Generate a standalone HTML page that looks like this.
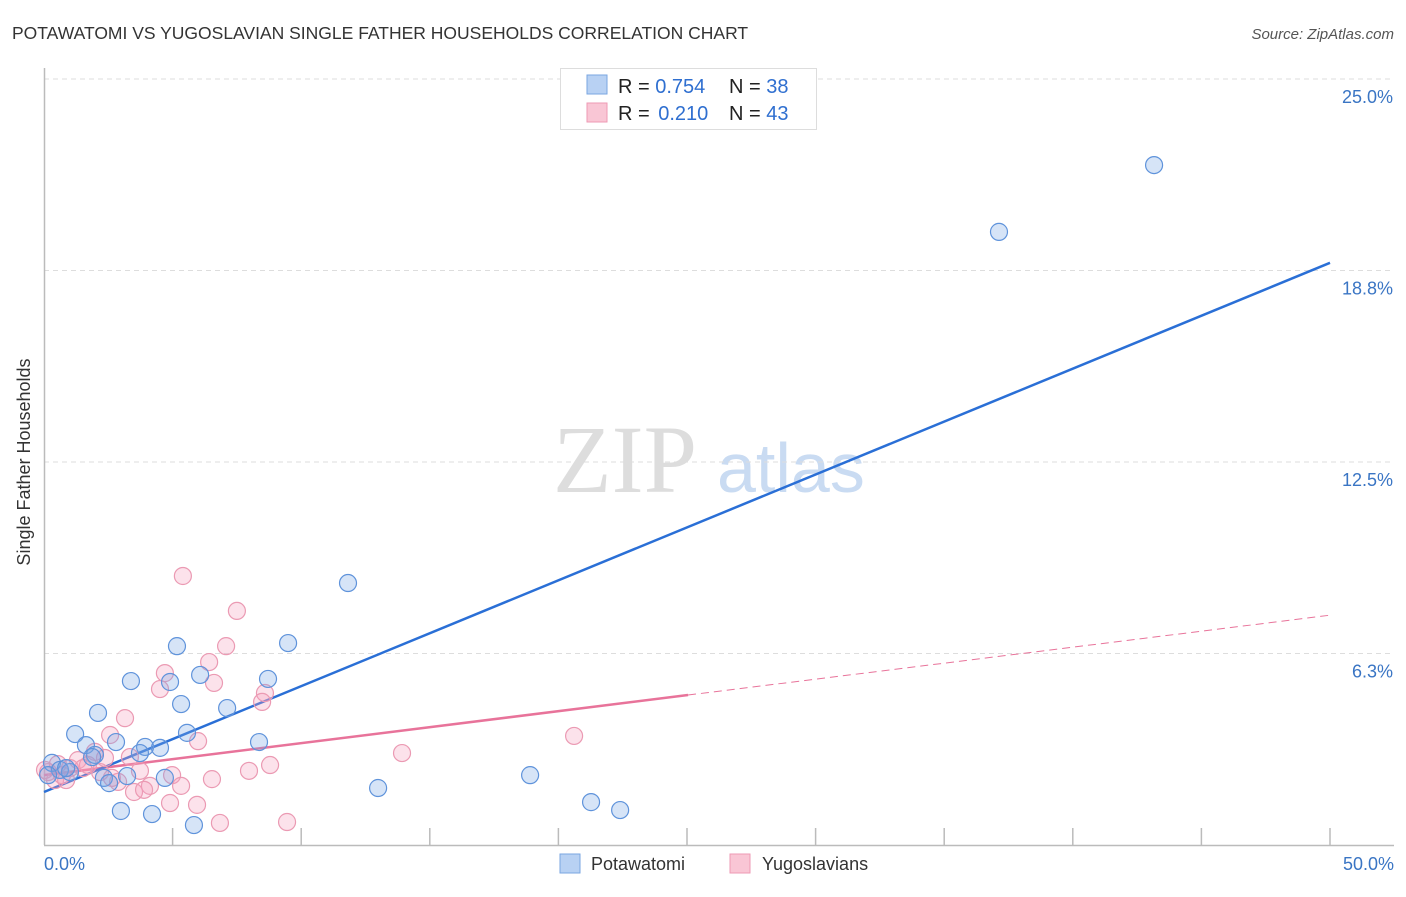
<!DOCTYPE html>
<html><head><meta charset="utf-8"><style>
body{margin:0;background:#fff;font-family:"Liberation Sans",sans-serif;}
</style></head><body>
<svg width="1406" height="892" xmlns="http://www.w3.org/2000/svg" style="font-family:'Liberation Sans',sans-serif">
<text x="12" y="39" font-size="17.5" fill="#333">POTAWATOMI VS YUGOSLAVIAN SINGLE FATHER HOUSEHOLDS CORRELATION CHART</text>
<text x="1394" y="39" font-size="15" fill="#555" font-style="italic" text-anchor="end">Source: ZipAtlas.com</text>
<g>
<text x="553" y="492" font-size="96" font-family="Liberation Serif,serif" fill="#ddd">ZIP</text>
<text x="717" y="492" font-size="70" fill="#c9dbf2">atlas</text>
</g>
<g id="grid"></g>
<g id="axes"></g>
<g id="lines"></g>
<g id="pts"></g>
<text x="24" y="456" font-size="18" fill="#333" text-anchor="middle" transform="rotate(-90 30 456)">Single Father Households</text>
<g>
<rect x="560.5" y="68.5" width="256" height="61" fill="#fff" stroke="#ddd"/>
<rect x="587" y="75" width="20" height="19" fill="#b8d1f3" stroke="#7aa6e0"/>
<rect x="587" y="103" width="20" height="19" fill="#f9c6d5" stroke="#ee9ab4"/>
<text x="618" y="93" font-size="20" fill="#222">R = <tspan fill="#2f6fd0">0.754</tspan></text>
<text x="729" y="93" font-size="20" fill="#222">N = <tspan fill="#2f6fd0">38</tspan></text>
<text x="618" y="120" font-size="20" fill="#222">R = <tspan fill="#2f6fd0" dx="3">0.210</tspan></text>
<text x="729" y="120" font-size="20" fill="#222">N = <tspan fill="#2f6fd0">43</tspan></text>
</g>
<g>
<rect x="560" y="854" width="20" height="19" fill="#b8d1f3" stroke="#7aa6e0"/>
<text x="591" y="870" font-size="18" fill="#333">Potawatomi</text>
<rect x="730" y="854" width="20" height="19" fill="#f9c6d5" stroke="#ee9ab4"/>
<text x="762" y="870" font-size="18" fill="#333">Yugoslavians</text>
</g>
</svg>
<script>
const yTicks=[6.25,12.5,18.75,25];
const yTickLabels=["6.3%","12.5%","18.8%","25.0%"];
const xTickLabels=["0.0%","50.0%"];
const blueX=[43.16,37.13,11.82,9.49,5.17,3.38,4.90,6.07,8.71,2.10,5.33,7.12,1.21,5.56,1.63,2.80,8.36,3.93,4.51,3.73,1.98,0.31,0.62,1.01,2.33,2.53,3.23,4.70,18.90,12.99,2.99,4.20,5.83,21.27,22.40,0.86,0.16,1.87];
const blueY=[22.19,20.01,8.55,6.59,6.49,5.35,5.32,5.55,5.42,4.31,4.60,4.47,3.62,3.66,3.26,3.36,3.36,3.20,3.17,3.00,2.94,2.68,2.45,2.38,2.19,2.02,2.25,2.19,2.28,1.86,1.11,1.01,0.65,1.40,1.14,2.51,2.28,2.87];
const pinkX=[5.40,7.50,7.08,6.42,4.70,4.51,6.61,8.59,8.48,3.15,2.57,5.99,20.61,1.98,13.92,3.34,1.32,1.71,8.79,7.97,3.73,4.98,2.18,2.88,5.33,6.53,4.12,3.50,3.89,4.90,5.95,6.84,9.45,0.43,0.16,0.70,1.01,1.52,2.37,0.54,0.86,2.64,0.04];
const pinkY=[8.78,7.64,6.49,5.97,5.61,5.09,5.29,4.96,4.67,4.14,3.59,3.39,3.56,3.04,3.00,2.87,2.77,2.61,2.61,2.42,2.42,2.28,2.38,2.06,1.93,2.15,1.93,1.73,1.80,1.37,1.31,0.72,0.75,2.12,2.38,2.28,2.51,2.51,2.84,2.64,2.12,2.19,2.45];
const blueFit=[1.73,19.0];
const pinkFit=[2.28,7.5];
const pinkSolidEnd=25.04;
const NS="http://www.w3.org/2000/svg";
const X0=44,X1=1330,Y0=845,YP=30.64;
const sx=v=>X0+(X1-X0)*v/50, sy=v=>Y0-v*YP;
function mk(p,t,a){const e=document.createElementNS(NS,t);for(const k in a)e.setAttribute(k,a[k]);document.getElementById(p).appendChild(e);return e;}
yTicks.forEach((t,i)=>{
 const l=mk('grid','line',{x1:44,x2:1394,y1:sy(t),y2:sy(t),stroke:'#ddd','stroke-dasharray':'5,4'});
 
 
 const tx=mk('grid','text',{x:1393,y:sy(t)+24,'font-size':18,fill:'#3a75c4','text-anchor':'end'});
 tx.textContent=yTickLabels[i];
 
 
});
mk('axes','line',{x1:44.5,x2:44.5,y1:68,y2:845,stroke:'#bbb','stroke-width':1.5});
mk('axes','line',{x1:44,x2:1394,y1:845.5,y2:845.5,stroke:'#bbb','stroke-width':1.5});
for(let i=1;i<=10;i++){const x=sx(i*5);const t=mk('axes','line',{x1:x,x2:x,y1:828,y2:845,stroke:'#bbb','stroke-width':1.5});
 
 }
const xl0=mk('axes','text',{x:44,y:870,'font-size':18,fill:'#3a75c4'});xl0.textContent=xTickLabels[0];


const xl1=mk('axes','text',{x:1394,y:870,'font-size':18,fill:'#3a75c4','text-anchor':'end'});xl1.textContent=xTickLabels[1];


function dot(x,y,f,s,n){const c=mk('pts','circle',{cx:sx(x),cy:sy(y),r:8.5,fill:f,stroke:s,'stroke-width':1.2});
 
 }
pinkX.forEach((x,i)=>dot(x,pinkY[i],'rgba(244,160,188,0.3)','#eb9ab3','yugoslavian-point'));
blueX.forEach((x,i)=>dot(x,blueY[i],'rgba(120,165,230,0.3)','#5f93db','potawatomi-point'));
const pf=v=>pinkFit[0]+(pinkFit[1]-pinkFit[0])*v/50;
const l1=mk('lines','line',{x1:sx(pinkSolidEnd),y1:sy(pf(pinkSolidEnd)),x2:sx(50),y2:sy(pf(50)),stroke:'#e8739a','stroke-width':1,'stroke-dasharray':'8,5'});


const l2=mk('lines','line',{x1:sx(0),y1:sy(pinkFit[0]),x2:sx(pinkSolidEnd),y2:sy(pf(pinkSolidEnd)),stroke:'#e8739a','stroke-width':2.5});


const l3=mk('lines','line',{x1:sx(0),y1:sy(blueFit[0]),x2:sx(50),y2:sy(blueFit[1]),stroke:'#2a6fd6','stroke-width':2.5});


</script>
</body></html>
